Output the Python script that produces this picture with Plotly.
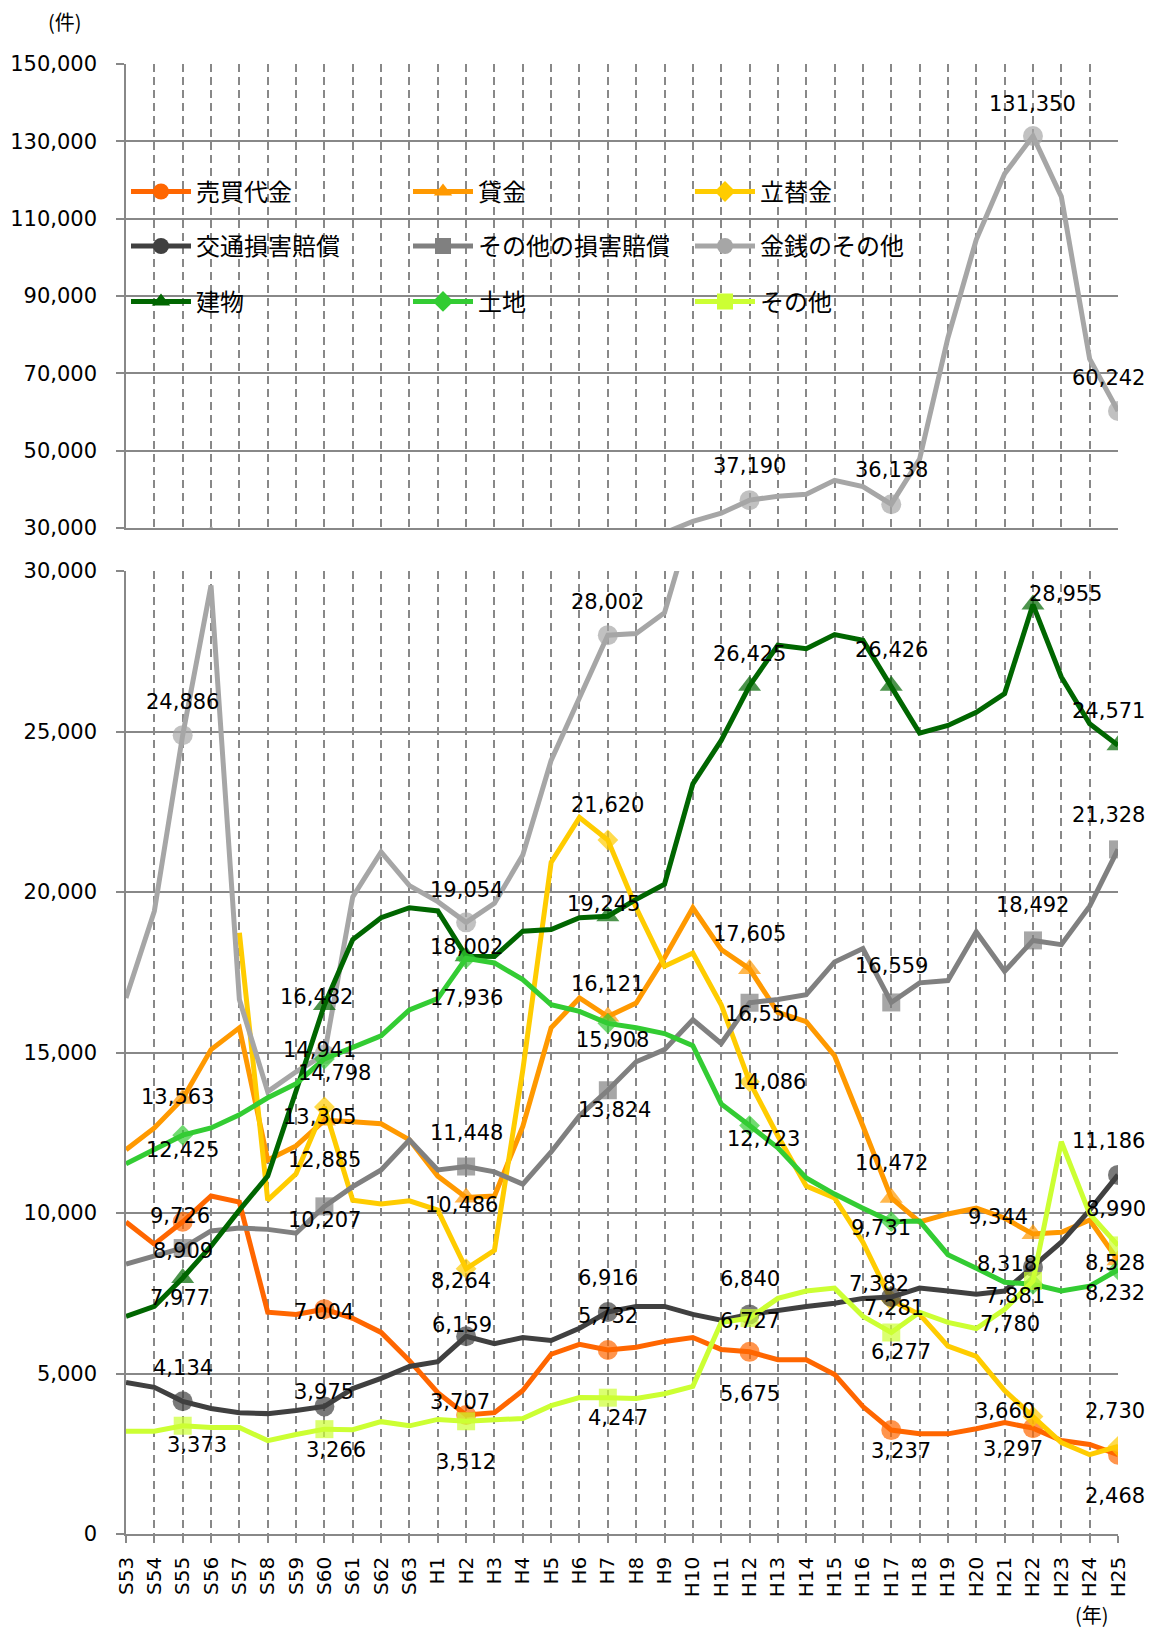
import plotly.graph_objects as go

# ---------------- data ----------------
years = ["S53", "S54", "S55", "S56", "S57", "S58", "S59", "S60", "S61", "S62", "S63",
         "H1", "H2", "H3", "H4", "H5", "H6", "H7", "H8", "H9", "H10", "H11", "H12",
         "H13", "H14", "H15", "H16", "H17", "H18", "H19", "H20", "H21", "H22", "H23",
         "H24", "H25"]

baibai = [9720, 9030, 9726, 10530, 10340, 6910, 6840, 7004, 6720, 6280, 5400, 4400,
          3707, 3780, 4470, 5600, 5910, 5732, 5820, 6000, 6120, 5750, 5675, 5430,
          5430, 4970, 3970, 3237, 3120, 3120, 3280, 3470, 3297, 2910, 2790, 2468]
kashikin = [11970, 12650, 13563, 15090, 15770, 11650, 12090, 12885, 12840, 12780, 12280,
            11150, 10486, 10530, 12700, 15770, 16700, 16121, 16540, 17950, 19510, 18210,
            17605, 16250, 15960, 14900, 12710, 10472, 9720, 9970, 10150, 9840, 9344,
            9400, 9780, 8528]
tatekae = [None, None, None, None, 18730, 10400, 11220, 13305, 10400, 10280, 10380,
           10090, 8264, 8840, 14450, 20920, 22320, 21620, 19510, 17690, 18100, 16490,
           14086, 12400, 10840, 10470, 9090, 7281, 6840, 5850, 5530, 4470, 3660, 2850,
           2470, 2730]
kotsu = [4720, 4570, 4134, 3910, 3780, 3750, 3850, 3975, 4530, 4850, 5220, 5370, 6159,
         5930, 6120, 6030, 6410, 6916, 7090, 7090, 6840, 6660, 6840, 6970, 7090, 7190,
         7340, 7382, 7660, 7570, 7470, 7570, 8318, 9090, 10090, 11186]
songai = [8410, 8660, 8909, 9440, 9530, 9490, 9370, 10207, 10820, 11340, 12280, 11340,
          11448, 11280, 10900, 11900, 13030, 13824, 14710, 15090, 16020, 15280, 16550,
          16650, 16800, 17820, 18240, 16559, 17170, 17240, 18760, 17530, 18492, 18360,
          19560, 21328]
kinsen = [16700, 19400, 24886, 29550, 16650, 13780, 14400, 14941, 19850, 21250, 20200,
          19700, 19054, 19650, 21150, 24100, 26050, 28002, 28050, 28700, 31700, 33800,
          37190, 38200, 38700, 42300, 40700, 36138, 47800, 79200, 104600, 121600,
          131350, 115700, 73700, 60242]
tatemono = [6780, 7090, 7977, 8970, 10090, 11150, 13800, 16482, 18520, 19200, 19510,
            19410, 18002, 17990, 18780, 18830, 19200, 19245, 19770, 20240, 23370, 24720,
            26425, 27690, 27580, 28020, 27840, 26426, 24950, 25190, 25600, 26180, 28955,
            26700, 25240, 24571]
tochi = [11530, 11970, 12425, 12650, 13060, 13590, 14030, 14798, 15150, 15520, 16330,
         16680, 17936, 17790, 17270, 16490, 16280, 15908, 15770, 15590, 15210, 13400,
         12723, 12030, 11090, 10590, 10150, 9731, 9750, 8700, 8280, 7840, 7780, 7570,
         7720, 8232]
sonota = [3200, 3200, 3373, 3320, 3320, 2910, 3100, 3266, 3250, 3500, 3370, 3570, 3512,
          3570, 3600, 4000, 4250, 4247, 4220, 4370, 4600, 6590, 6727, 7340, 7570, 7660,
          6780, 6277, 6910, 6590, 6400, 7000, 7881, 12220, 9970, 8990]

labeled_years = ["S55", "S60", "H2", "H7", "H12", "H17", "H22", "H25"]

# ---------------- styles ----------------
NUM_FONT = "DejaVu Sans"
CJK_FONT = "Noto Sans CJK JP"
GRID = "#888888"

series = [
    # name, values, color, symbol, marker size, legend row
    ("売買代金", baibai, "#FF6600", "circle", 20, "legend"),
    ("貸金", kashikin, "#FF9900", "triangle-up", 20, "legend"),
    ("立替金", tatekae, "#FFCC00", "diamond", 16, "legend"),
    ("交通損害賠償", kotsu, "#404040", "circle", 20, "legend2"),
    ("その他の損害賠償", songai, "#808080", "square", 18, "legend2"),
    ("金銭のその他", kinsen, "#A6A6A6", "circle", 20, "legend2"),
    ("建物", tatemono, "#006600", "triangle-up", 20, "legend3"),
    ("土地", tochi, "#33CC33", "diamond", 16, "legend3"),
    ("その他", sonota, "#CCFF33", "square", 18, "legend3"),
]

# label offsets (dx right, dy down) in px relative to marker centre
offsets = {
    "売買代金": {"S55": (-3, -6), "S60": (0, 3), "H2": (-6, -13), "H7": (0, -34),
             "H12": (0, 42), "H17": (10, 21), "H22": (-20, 21), "H25": (-3, 41)},
    "貸金": {"S55": (-5, -2), "S60": (0, 40), "H2": (-5, 8), "H7": (0, -33),
           "H12": (0, -35), "H17": (0, -35), "H22": (-35, -17), "H25": (-3, 3)},
    "立替金": {"S60": (-5, 10), "H2": (-5, 12), "H7": (0, -35), "H12": (20, 0),
            "H17": (3, 8), "H22": (-28, -6), "H25": (-3, -35)},
    "交通損害賠償": {"S55": (0, -33), "S60": (0, -14), "H2": (-4, -11), "H7": (0, -34),
               "H12": (0, -35), "H17": (-12, -13), "H22": (-26, -3), "H25": (-10, -34)},
    "その他の損害賠償": {"S55": (0, 3), "S60": (0, 14), "H2": (0, -34), "H7": (7, 20),
                 "H12": (12, 11), "H17": (0, -36), "H22": (0, -35), "H25": (-10, -34)},
    "金銭のその他": {"S55": (0, -33), "S60": (-5, -4), "H2": (0, -32), "H7": (0, -33),
               "H12": (0, -34), "H17": (0, -34), "H22": (0, -32), "H25": (-10, -33)},
    "建物": {"S55": (-3, 20), "S60": (-8, -8), "H2": (0, -9), "H7": (-4, -12),
           "H12": (0, -32), "H17": (0, -36), "H22": (33, -11), "H25": (-10, -34)},
    "土地": {"S55": (0, 15), "S60": (10, 14), "H2": (0, 40), "H7": (5, 17),
           "H12": (14, 13), "H17": (-10, 6), "H22": (-23, 40), "H25": (-3, 23)},
    "その他": {"S55": (14, 19), "S60": (12, 21), "H2": (0, 41), "H7": (10, 20),
            "H12": (0, 3), "H17": (10, 19), "H22": (-18, 15), "H25": (-2, -36)},
}

BREAK = 30000

fig = go.Figure()
annotations = []

for name, vals, color, symbol, msize, leg in series:
    def sizes_for(upper):
        out = []
        for y, v in zip(years, vals):
            show = y in labeled_years and v is not None and ((v > BREAK) == upper)
            out.append(msize if show else 0)
        return out

    common = dict(
        x=years, y=vals, mode="lines+markers", name=name,
        line=dict(color=color, width=5),
        connectgaps=False, hoverinfo="x+y+name", legendgroup=name,
    )
    fig.add_trace(go.Scatter(
        **common, xaxis="x", yaxis="y", showlegend=False,
        marker=dict(symbol=symbol, size=sizes_for(False), color=color, line=dict(width=0)),
    ))
    if name == "金銭のその他":
        fig.add_trace(go.Scatter(
            **common, xaxis="x2", yaxis="y2", showlegend=False,
            marker=dict(symbol=symbol, size=sizes_for(True), color=color,
                        line=dict(width=0)),
        ))
    # legend key (no data, legend only)
    fig.add_trace(go.Scatter(
        x=[None], y=[None], mode="lines+markers", name=name, legend=leg,
        legendgroup=name, line=dict(color=color, width=5),
        marker=dict(symbol=symbol, size=16, color=color, line=dict(width=0)),
        xaxis="x", yaxis="y", showlegend=True, hoverinfo="skip",
    ))
    for yr, (dx, dy) in offsets[name].items():
        v = vals[years.index(yr)]
        if v is None:
            continue
        top = v > BREAK
        annotations.append(dict(
            x=yr, y=v, xref="x2" if top else "x", yref="y2" if top else "y",
            text=f"{v:,}", showarrow=False, xshift=dx, yshift=-dy,
            xanchor="center", yanchor="middle",
            font=dict(family=NUM_FONT, size=21, color="black"),
        ))

annotations.append(dict(text="(件)", x=-0.0615, y=1.029, xref="paper", yref="paper",
                        xanchor="center", yanchor="middle", showarrow=False,
                        font=dict(family=CJK_FONT, size=20, color="black")))
annotations.append(dict(text="(年)", x=0.9738, y=-0.0551, xref="paper", yref="paper",
                        xanchor="center", yanchor="middle", showarrow=False,
                        font=dict(family=CJK_FONT, size=20, color="black")))

xcommon = dict(
    type="category", categoryorder="array", categoryarray=years, range=[0, 35],
    showgrid=True, gridcolor=GRID, gridwidth=1.5, griddash="8px,5px",
    showline=True, linecolor=GRID, linewidth=1.5, zeroline=False, automargin=False,
)
ycommon = dict(
    showgrid=True, gridcolor=GRID, gridwidth=1.5, showline=True, linecolor=GRID,
    linewidth=1.5, ticks="outside", ticklen=8, tickcolor=GRID, tickwidth=1.5,
    tickformat=",d", zeroline=False, ticklabelstandoff=15, automargin=False,
    tickfont=dict(family=NUM_FONT, size=21, color="black"),
)

leg_common = dict(
    orientation="h", bgcolor="rgba(0,0,0,0)", borderwidth=0,
    font=dict(family=CJK_FONT, size=24, color="black"),
    entrywidth=207, entrywidthmode="pixels", itemsizing="trace", itemwidth=60,
    xanchor="left", yanchor="middle", x=0.0, traceorder="normal",
)

# page body has an 8px margin: figure is sized/offset so the plot lands in place
fig.update_layout(
    width=1145, height=1622,
    margin=dict(l=118, r=35, t=56, b=96, autoexpand=False),
    plot_bgcolor="white", paper_bgcolor="white",
    xaxis=dict(**xcommon, anchor="y", ticks="outside", ticklen=7, tickcolor=GRID,
               tickwidth=1.5, tickangle=-90, ticklabelstandoff=6,
               tickfont=dict(family=NUM_FONT, size=20, color="black")),
    xaxis2=dict(**xcommon, anchor="y2", matches="x", showticklabels=False, ticks=""),
    yaxis=dict(**ycommon, domain=[0, 0.6551], range=[0, 30000], dtick=5000, tick0=0),
    yaxis2=dict(**ycommon, domain=[0.6844, 1], range=[30000, 150000], dtick=20000,
                tick0=10000),
    legend=dict(**leg_common, y=0.913),
    legend2=dict(**leg_common, y=0.8759),
    legend3=dict(**leg_common, y=0.8382),
    annotations=annotations,
)

fig.write_html("out.html")
